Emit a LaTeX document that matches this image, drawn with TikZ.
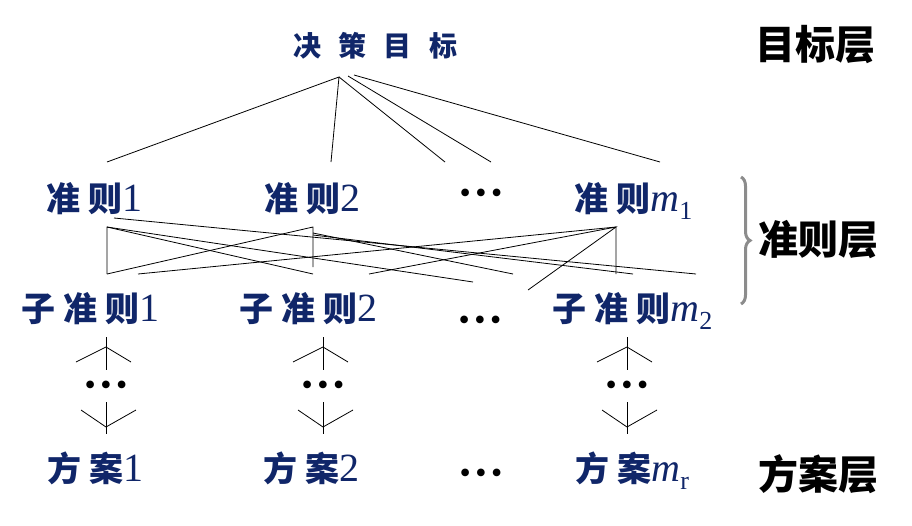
\documentclass[tikz,border=0pt]{standalone}
\usepackage{fontspec}
\setmainfont{Liberation Serif}
\newfontfamily\cjk{Noto Sans CJK SC}
\usetikzlibrary{decorations.pathreplacing}
\definecolor{navy}{RGB}{16,38,105}
\newcommand{\zh}[1]{{\cjk\bfseries\fontsize{34}{34}\selectfont\addfontfeature{LetterSpace=24}#1}}
\newcommand{\msub}[1]{\textit{m}\raisebox{-8pt}{\fontsize{26}{26}\selectfont #1}}
\newcommand{\threedots}{•\hspace{4.5pt}•\hspace{4.5pt}•}

\begin{document}
\begin{tikzpicture}[x=1pt, y=-1pt,
  item/.style={anchor=base west, inner sep=0, text=navy, font=\fontsize{40}{40}\selectfont},
  goal/.style={anchor=base west, inner sep=0, text=navy, font=\cjk\bfseries\fontsize{28}{28}\selectfont\addfontfeature{LetterSpace=62}},
  layer/.style={anchor=base west, inner sep=0, font=\cjk\bfseries\fontsize{40}{40}\selectfont},
  dotsn/.style={inner sep=0, font=\fontsize{32}{32}\selectfont},
  link/.style={line width=0.8pt},
  brace/.style={decorate, decoration={brace, amplitude=9pt}, line width=3pt, black!45}
]
\newcommand{\chain}[2]{% name, x
  \node[dotsn] (#1) at (#2,388) {\threedots};
  \coordinate (#1up) at (#2,347);
  \coordinate (#1dn) at (#2,427);
  \draw[link] (#2,337) -- (#2,370);
  \draw[link] (#2-30,362) -- (#1up) -- (#2+25,362);
  \draw[link] (#2,402) -- (#2,434);
  \draw[link] (#2-25,410) -- (#1dn) -- (#2+30,410);}
\useasboundingbox (0,0) rectangle (912,525);

% goal
\node[goal] (goal) at (293,56) {决策目标};

% criteria
\node[item] (crit1) at (46,211) {\zh{准则}1};
\node[item] (crit2) at (264,211) {\zh{准则}2};
\node[dotsn] (critdots) at (481,196) {\threedots};
\node[item] (critm) at (574,211) {\zh{准则}\msub{1}};

% sub-criteria
\node[item] (sub1) at (21,321) {\zh{子准则}1};
\node[item] (sub2) at (239,321) {\zh{子准则}2};
\node[dotsn] (subdots) at (480,323) {\threedots};
\node[item] (subm) at (552,321) {\zh{子准则}\msub{2}};

% alternatives
\node[item] (alt1) at (47,481) {\zh{方案}1};
\node[item] (alt2) at (263,481) {\zh{方案}2};
\node[dotsn] (altdots) at (481,476) {\threedots};
\node[item] (altm) at (575,481) {\zh{方案}\msub{r}};

% layer names
\node[layer] (lgoal) at (755,59) {目标层};
\node[layer] (lcrit) at (758,254) {准则层};
\node[layer] (lalt) at (758,489) {方案层};
\coordinate (bt) at (741,177);
\coordinate (bb) at (741,304);
\draw[brace] (bt) -- (bb);

% goal -> criteria
\coordinate (g1) at (339,77);
\coordinate (g2) at (348,76);
\coordinate (g3) at (354,75);
\coordinate (t1) at (107,162);
\coordinate (t2) at (331,162);
\coordinate (t3) at (445,162);
\coordinate (t4) at (491,162);
\coordinate (t5) at (660,162);
\draw[link] (t1) -- (g1) -- (t2);
\draw[link] (g1) -- (t3);
\draw[link] (g2) -- (t4);
\draw[link] (g3) -- (t5);

% criteria -> sub-criteria
\coordinate (a1) at (114,218);
\coordinate (a2) at (107,227);
\coordinate (a3) at (107,274);
\coordinate (b1) at (313,227);
\coordinate (b2) at (313,233);
\coordinate (b3) at (313,235);
\coordinate (b4) at (313,267);
\coordinate (b5) at (313,274);
\coordinate (c1) at (616,227);
\coordinate (c2) at (616,274);
\coordinate (e1) at (696,274);
\coordinate (e2) at (473,282);
\coordinate (e3) at (138,274);
\coordinate (e4) at (513,274);
\coordinate (e5) at (633,274);
\coordinate (e6) at (369,274);
\coordinate (e7) at (528,290);
\draw[link] (a1) -- (e1);
\draw[link] (a3) -- (a2) -- (b5);
\draw[link] (a2) -- (e2);
\draw[link] (a3) -- (b1) -- (b4);
\draw[link] (e3) -- (c1) -- (c2);
\draw[link] (b2) -- (e4);
\draw[link] (b3) -- (e5);
\draw[link] (e6) -- (c1) -- (e7);

% sub-criteria ... alternatives
\chain{chain1}{106}
\chain{chain2}{323}
\chain{chainm}{627}

\end{tikzpicture}
\end{document}
